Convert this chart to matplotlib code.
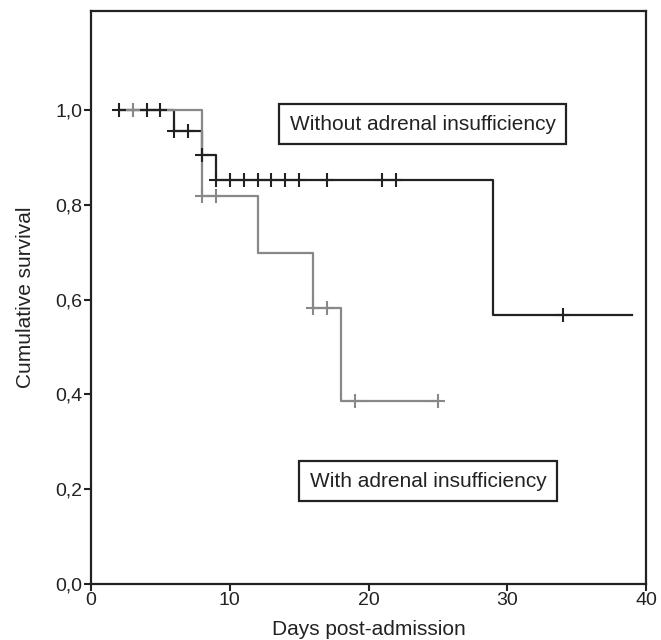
import numpy as np
import matplotlib.pyplot as plt
from matplotlib.ticker import FuncFormatter

plt.rcParams['font.family'] = ['Liberation Sans', 'DejaVu Sans']

# Kaplan-Meier steps (time, survival after the step)
black_t = [2, 6, 8, 9, 29, 39]
black_s = [1.0, 0.955, 0.905, 0.852, 0.567, 0.567]
black_cens = [2, 4, 5, 6, 7, 8, 9, 10, 11, 12, 13, 14, 15, 17, 21, 22, 34]

gray_t = [2, 8, 12, 16, 18, 25]
gray_s = [1.0, 0.818, 0.698, 0.583, 0.385, 0.385]
gray_cens = [3, 8, 9, 16, 17, 19, 25]

black_col = '#222222'
gray_col = '#888888'


def surv_at(t, times, surv):
    idx = np.searchsorted(times, t, side='right') - 1
    return np.array(surv)[idx]


fig = plt.figure(figsize=(6.61, 6.40), dpi=100)
ax = fig.add_axes([0.1377, 0.0875, 0.8396, 0.8955])

ax.plot(black_t, black_s, drawstyle='steps-post', color=black_col, lw=1.6, zorder=2)
ax.plot(gray_t, gray_s, drawstyle='steps-post', color=gray_col, lw=1.6, zorder=3)
ax.plot(gray_cens, surv_at(gray_cens, gray_t, gray_s), ls='none', marker='+',
        ms=9.5, mew=1.5, color=gray_col, zorder=4)
ax.plot(black_cens, surv_at(black_cens, black_t, black_s), ls='none', marker='+',
        ms=9.5, mew=1.5, color=black_col, zorder=5)

ax.set_xlim(0, 40)
ax.set_ylim(0, 1.209)
ax.set_xticks([0, 10, 20, 30, 40])
ax.set_yticks([0, 0.2, 0.4, 0.6, 0.8, 1.0])
ax.yaxis.set_major_formatter(FuncFormatter(lambda v, p: f'{v:.1f}'.replace('.', ',')))
ax.tick_params(direction='out', length=5, width=1.5, color=black_col,
               labelsize=14, labelcolor='#222222', pad=1)
for s in ax.spines.values():
    s.set_linewidth(1.6)
    s.set_color(black_col)

ax.set_xlabel('Days post-admission', fontsize=15, color='#222222', labelpad=8)
ax.set_ylabel('Cumulative survival', fontsize=15, color='#222222', labelpad=15)

box = dict(boxstyle='square,pad=0.5', fc='white', ec=black_col, lw=1.6)
ax.text(23.9, 0.970, 'Without adrenal insufficiency', ha='center', va='center',
        fontsize=15, color='#222222', bbox=box)
ax.text(24.3, 0.217, 'With adrenal insufficiency', ha='center', va='center',
        fontsize=15, color='#222222', bbox=box)

fig.savefig('out.png', dpi=100)
